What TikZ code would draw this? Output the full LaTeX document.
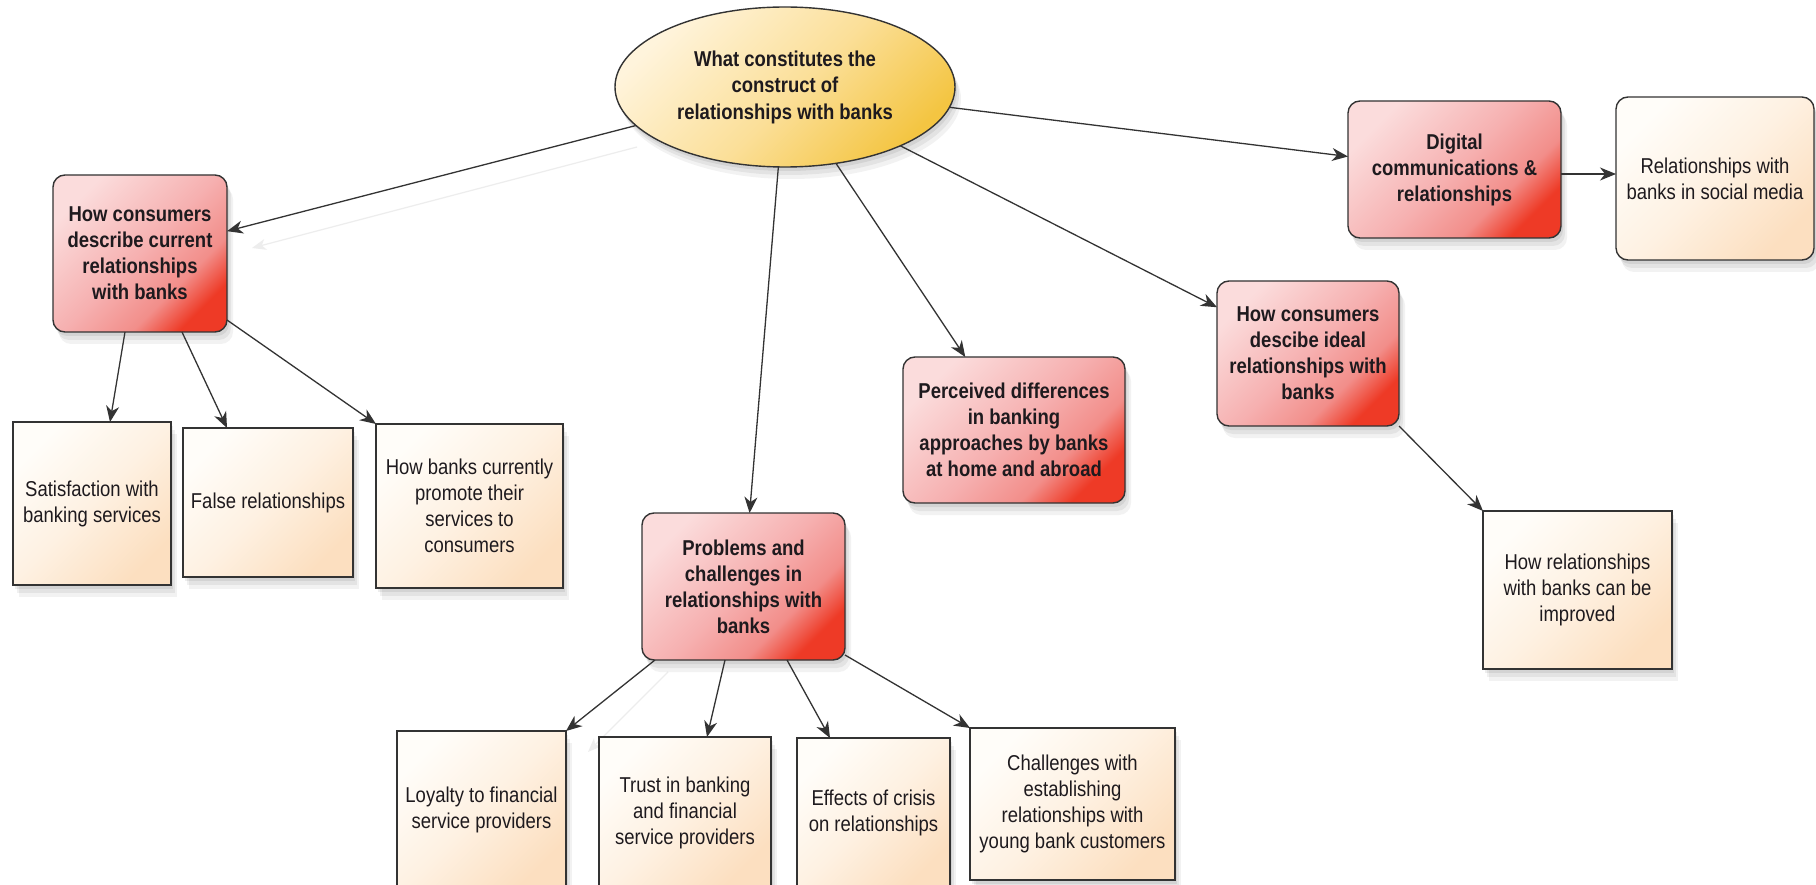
\documentclass[tikz,border=0pt]{standalone}
\usepackage{fontspec}
\setmainfont[FakeStretch=0.86]{Liberation Sans}
\usetikzlibrary{shapes.geometric,arrows.meta,shadows,calc}
\definecolor{edgec}{HTML}{333333}
\definecolor{txtc}{HTML}{1E1A1E}
\definecolor{redA}{HTML}{FBDCDC}
\definecolor{redB}{HTML}{F6B0B0}
\definecolor{redC}{HTML}{F28E8A}
\definecolor{redD}{HTML}{EE3A26}
\definecolor{creamA}{HTML}{FFFDF9}
\definecolor{creamB}{HTML}{FEF1E2}
\definecolor{creamC}{HTML}{FCDFC0}
\definecolor{ellA}{HTML}{FFF4DC}
\definecolor{ellB}{HTML}{FBDF98}
\definecolor{ellC}{HTML}{F4C542}
\pgfdeclarehorizontalshading{redfill}{100bp}{color(0bp)=(redA); color(25bp)=(redA); color(50bp)=(redB); color(65bp)=(redC); color(75bp)=(redD); color(100bp)=(redD)}
\pgfdeclarehorizontalshading{creamfill}{100bp}{color(0bp)=(creamA); color(25bp)=(creamA); color(50bp)=(creamB); color(75bp)=(creamC); color(100bp)=(creamC)}
\pgfdeclarehorizontalshading{ellfill}{100bp}{color(0bp)=(ellA); color(25bp)=(ellA); color(52bp)=(ellB); color(75bp)=(ellC); color(100bp)=(ellC)}
\tikzset{
  base/.style={draw=edgec, line width=1.4pt, align=center, text=txtc, inner sep=0pt, outer sep=0pt,
    font=\fontsize{21.5pt}{26pt}\selectfont},
  softshadow/.style={
    drop shadow={shadow xshift=2pt, shadow yshift=-4pt, opacity=.07, fill=black},
    drop shadow={shadow xshift=4pt, shadow yshift=-8pt, opacity=.06, fill=black},
    drop shadow={shadow xshift=6pt, shadow yshift=-12pt, opacity=.05, fill=black}},
  sz/.style 2 args={minimum width=#1pt, minimum height=#2pt},
  redbox/.style={base, softshadow, rounded corners=12pt, shading=redfill, shading angle=-45,
    font=\bfseries\fontsize{21.5pt}{26pt}\selectfont},
  creambox/.style={base, softshadow, shading=creamfill, shading angle=-45},
  rootell/.style={base, softshadow, ellipse, shading=ellfill, shading angle=-45,
    font=\bfseries\fontsize{21.5pt}{26.5pt}\selectfont},
  arr/.style={draw=edgec, line width=1.3pt, -{Stealth[length=16pt,width=13pt,inset=5pt]}},
  ghost/.style={draw=black!7, line width=1.2pt, -{Stealth[length=14pt,width=11pt,inset=4pt]}},
}
\begin{document}
\begin{tikzpicture}[x=1pt,y=-1pt]
\useasboundingbox (0,0) rectangle (1816,885);
\fill[white] (0,0) rectangle (1816,885);
\clip (0,0) rectangle (1816,885);

% ghost connectors
\coordinate (g1) at (637,147);
\coordinate (g2) at (252,248);
\coordinate (g3) at (668,672);
\coordinate (g4) at (588,752);
\draw[ghost] (g1) -- (g2);
\draw[ghost] (g3) -- (g4);

% nodes
\node[rootell, sz={340}{160}] (ell) at (785,87) {What constitutes the\\construct of\\relationships with banks};

\node[redbox, sz={174}{157}] (b1) at (140,253.5) {How consumers\\describe current\\relationships\\with banks};
\node[creambox, sz={158}{163}] (sat) at (92,503.5) {Satisfaction with\\banking services};
\node[creambox, sz={170}{149}] (fal) at (268,502.5) {False relationships};
\node[creambox, sz={187}{164}] (howb) at (469.5,506) {How banks currently\\promote their\\services to\\consumers};

\node[redbox, sz={203}{147}] (prob) at (743.5,586.5) {Problems and\\challenges in\\relationships with\\banks};
\node[creambox, sz={169}{157}] (loy) at (481.5,809.5) {Loyalty to financial\\service providers};
\node[creambox, sz={172}{151}] (tru) at (685,812.5) {Trust in banking\\and financial\\service providers};
\node[creambox, sz={153}{150}] (eff) at (873.5,813) {Effects of crisis\\on relationships};
\node[creambox, sz={205}{152}] (cha) at (1072.5,804) {Challenges with\\establishing\\relationships with\\young bank customers};

\node[redbox, sz={222}{146}] (per) at (1014,430) {Perceived differences\\in banking\\approaches by banks\\at home and abroad};
\node[redbox, sz={182}{145}] (ide) at (1308,353.5) {How consumers\\descibe ideal\\relationships with\\banks};
\node[creambox, sz={189}{158}] (imp) at (1577.5,590) {How relationships\\with banks can be\\improved};
\node[redbox, sz={213}{137}] (dig) at (1454.5,169.5) {Digital\\communications \&\\relationships};
\node[creambox, rounded corners=12pt, sz={198}{163}] (soc) at (1715,178.5) {Relationships with\\banks in social media};

% connectors
\draw[arr] (ell) -- (b1);
\draw[arr] (ell) -- (prob);
\draw[arr] (ell) -- (per);
\draw[arr] (ell) -- (ide);
\draw[arr] (ell) -- (dig);
\draw[arr] ($(dig.east)+(0,4.5)$) -- ($(soc.west)+(0,-4.5)$);
\draw[arr] ($(b1.south)+(-15,0)$) -- ($(sat.north)+(18,0)$);
\draw[arr] ($(b1.south)+(42,0)$) -- ($(fal.north)+(-41,0)$);
\draw[arr] ($(b1.south east)+(0,-12)$) -- (howb.north west);
\draw[arr] ($(prob.south west)+(13,0)$) -- (loy.north east);
\draw[arr] ($(prob.south)+(-18.5,0)$) -- ($(tru.north)+(22,0)$);
\draw[arr] ($(prob.south)+(43.5,0)$) -- ($(eff.north)+(-43.5,0)$);
\draw[arr] ($(prob.south east)+(0,-5)$) -- (cha.north west);
\draw[arr] (ide.south east) -- (imp.north west);
\end{tikzpicture}
\end{document}
